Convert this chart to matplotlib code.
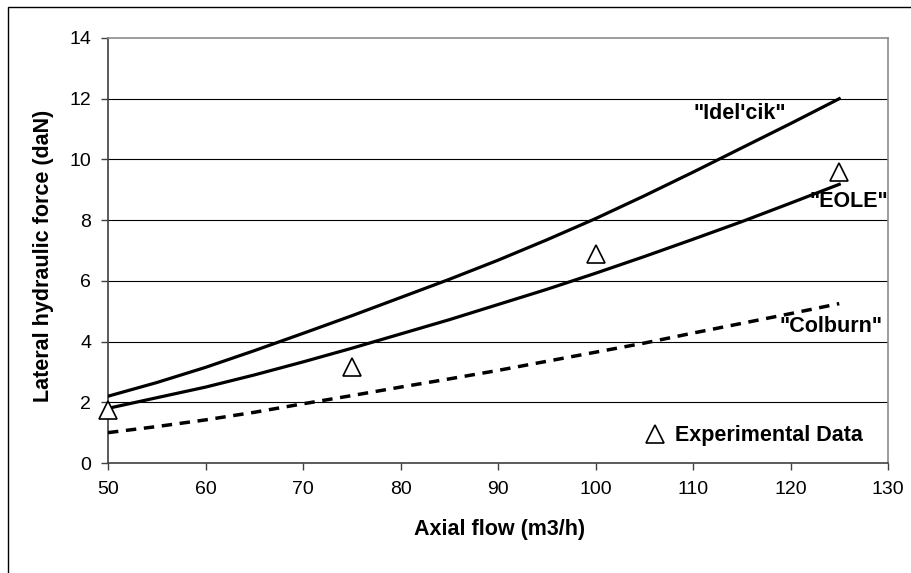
import matplotlib
matplotlib.use("Agg")
import matplotlib.pyplot as plt
from matplotlib.patches import Rectangle
from matplotlib.lines import Line2D

# ---------------- data ----------------
flow = [50, 55, 60, 65, 70, 75, 80, 85, 90, 95, 100, 105, 110, 115, 120, 125]
idelcik = [2.2, 2.65, 3.15, 3.7, 4.27, 4.85, 5.45, 6.05, 6.68, 7.35, 8.05, 8.8, 9.58, 10.38, 11.18, 12.0]
eole = [1.8, 2.15, 2.5, 2.9, 3.33, 3.78, 4.25, 4.72, 5.22, 5.72, 6.25, 6.8, 7.37, 7.95, 8.56, 9.18]
colburn = [1.0, 1.2, 1.42, 1.67, 1.95, 2.22, 2.5, 2.77, 3.05, 3.35, 3.65, 3.95, 4.28, 4.6, 4.92, 5.25]
exp_flow = [50, 75, 100, 125]
exp_force = [1.75, 3.15, 6.9, 9.6]

x_ticks = [50, 60, 70, 80, 90, 100, 110, 120, 130]
y_ticks = [0, 2, 4, 6, 8, 10, 12, 14]

# ---------------- figure ----------------
W, H = 911, 573
fig = plt.figure(figsize=(W / 100, H / 100), dpi=100)
fig.patch.set_facecolor("white")

# outer frame (cut by the right / bottom edges)
fig.add_artist(Rectangle((8 / W, -0.05), 1.2, 1.05 - 7 / H,
                         transform=fig.transFigure, fill=False,
                         edgecolor="black", linewidth=1.0))

left, right, top, bottom = 108, 888, 38, 463
ax = fig.add_axes([left / W, 1 - bottom / H, (right - left) / W, (bottom - top) / H])

tick_font = dict(family=["Liberation Sans Narrow", "Liberation Sans", "DejaVu Sans"], size=14)
bold_font = dict(family=["Liberation Sans", "DejaVu Sans"], size=15.5, weight="bold")

ax.set_xlim(50, 130)
ax.set_ylim(0, 14)
ax.set_xticks(x_ticks)
ax.set_yticks(y_ticks)
ax.set_xticklabels([str(v) for v in x_ticks], **tick_font)
ax.set_yticklabels([str(v) for v in y_ticks], **tick_font)

for yv in y_ticks[1:-1]:
    ax.axhline(yv, color="black", linewidth=0.8, zorder=1)

ax.spines["top"].set_color("#8c8c8c")
ax.spines["right"].set_color("#8c8c8c")
ax.spines["left"].set_color("#404040")
ax.spines["bottom"].set_color("#404040")
for s in ax.spines.values():
    s.set_linewidth(1.2)
ax.tick_params(axis="both", direction="out", length=5, width=1.0, color="#404040")
ax.tick_params(axis="x", pad=8)
ax.tick_params(axis="y", pad=7)

# curves
ax.plot(flow, idelcik, color="black", linewidth=2.3, zorder=3)
ax.plot(flow, eole, color="black", linewidth=2.3, zorder=3)
ax.plot(flow, colburn, color="black", linewidth=2.5, linestyle=(0, (3.0, 2.2)), zorder=3)
ax.plot(exp_flow, exp_force, linestyle="none", marker="^", markersize=13,
        markerfacecolor="white", markeredgecolor="black", markeredgewidth=1.2,
        zorder=4, clip_on=False)

# curve labels
ax.text(114.8, 11.5, "\"Idel'cik\"", ha="center", va="center", **bold_font)
ax.text(130, 8.6, "\"EOLE\"", ha="right", va="center", **bold_font)
ax.text(129.4, 4.49, "\"Colburn\"", ha="right", va="center", **bold_font)

# legend
handle = Line2D([], [], linestyle="none", marker="^", markersize=13,
                markerfacecolor="white", markeredgecolor="black", markeredgewidth=1.2)
leg = ax.legend([handle], ["Experimental Data"], loc="center left",
                bbox_to_anchor=((636 - left) / (right - left), (bottom - 436) / (bottom - top)),
                frameon=False, handlelength=0.8, handletextpad=0.5, borderpad=0,
                prop=dict(family="Liberation Sans", size=15.5, weight="bold"))

# axis labels
ax.set_xlabel("Axial flow (m3/h)", **bold_font)
ax.xaxis.set_label_coords((500 - left) / (right - left), -(530 - bottom) / (bottom - top))
ax.xaxis.label.set_va("center")
ax.set_ylabel("Lateral hydraulic force (daN)", **bold_font)
ax.yaxis.set_label_coords((44 - left) / (right - left), (bottom - 256) / (bottom - top))
ax.yaxis.label.set_va("center")
ax.yaxis.label.set_rotation_mode("default")

fig.savefig("out.png", dpi=100, facecolor="white")
